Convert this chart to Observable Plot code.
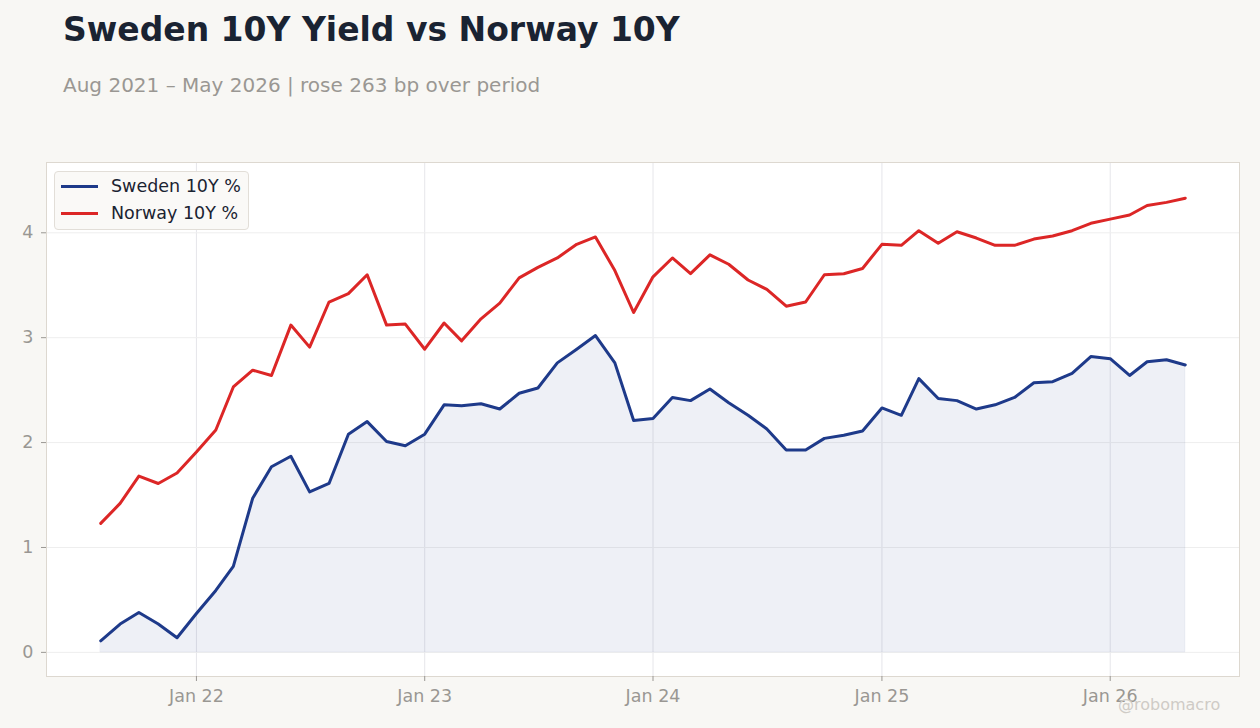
<!DOCTYPE html>
<html>
<head>
<meta charset="utf-8">
<script src="https://cdn.jsdelivr.net/npm/d3@7"></script>
<script src="https://cdn.jsdelivr.net/npm/@observablehq/plot@0.6"></script>
<style>
  html, body { margin: 0; padding: 0; background: #f8f7f4; }
  #wrap { position: relative; width: 1260px; height: 728px; overflow: hidden; font-family: "DejaVu Sans", sans-serif; }
  .title { position: absolute; left: 63px; top: 13px; font-size: 33px; line-height: 1; font-weight: bold; color: #1a2332; white-space: nowrap; }
  .subtitle { position: absolute; left: 63px; top: 75px; font-size: 20px; line-height: 1; color: #9a9793; white-space: nowrap; }
  #chart { position: absolute; left: 0; top: 150px; }
  .legend { position: absolute; left: 54px; top: 171px; width: 193px; height: 57px; background: #faf9f7; border: 1px solid #e2ded8; border-radius: 4px; }
  .legend .item { position: absolute; left: 0; height: 20px; width: 193px; }
  .legend .sw { position: absolute; left: 6px; top: 9px; width: 37px; height: 3px; }
  .legend .lab { position: absolute; left: 56px; top: 0; font-size: 17.5px; line-height: 20px; color: #1a2332; white-space: nowrap; }
  .mark { position: absolute; left: 1118px; top: 697px; font-size: 16px; line-height: 1; color: #cfcbc6; white-space: nowrap; }
</style>
</head>
<body>
<div id="wrap">
  <div class="title">Sweden 10Y Yield vs Norway 10Y</div>
  <div class="subtitle">Aug 2021 – May 2026 | rose 263 bp over period</div>
  <div id="chart"></div>
  <div class="legend">
    <div class="item" style="top:4px"><div class="sw" style="background:#1e3a8a"></div><div class="lab">Sweden 10Y %</div></div>
    <div class="item" style="top:31px"><div class="sw" style="background:#dc2626"></div><div class="lab">Norway 10Y %</div></div>
  </div>
  <div class="mark">@robomacro</div>
</div>
<script>
// Monthly observations, Aug 2021 – May 2026
const startMonth = "2021-08-01";
const endMonth = "2026-05-01";
const sweden = [0.11,0.27,0.38,0.27,0.14,0.37,0.59,0.82,1.47,1.77,1.87,1.53,1.61,2.08,2.20,2.01,1.97,2.08,2.36,2.35,2.37,2.32,2.47,2.52,2.76,2.89,3.02,2.76,2.21,2.23,2.43,2.40,2.51,2.38,2.26,2.13,1.93,1.93,2.04,2.07,2.11,2.33,2.26,2.61,2.42,2.40,2.32,2.36,2.43,2.57,2.58,2.66,2.82,2.80,2.64,2.77,2.79,2.74];
const norway = [1.23,1.42,1.68,1.61,1.71,1.91,2.12,2.53,2.69,2.64,3.12,2.91,3.34,3.42,3.60,3.12,3.13,2.89,3.14,2.97,3.18,3.33,3.57,3.67,3.76,3.89,3.96,3.64,3.24,3.58,3.76,3.61,3.79,3.70,3.55,3.46,3.30,3.34,3.60,3.61,3.66,3.89,3.88,4.02,3.90,4.01,3.95,3.88,3.88,3.94,3.97,4.02,4.09,4.13,4.17,4.26,4.29,4.33];
const yTicks = [0, 1, 2, 3, 4];

const d0 = new Date(startMonth), d1 = new Date(endMonth);
const months = d3.utcMonth.range(d0, d3.utcMonth.offset(d1, 1));
const rows = months.map((d, i) => ({date: d, sweden: sweden[i], norway: norway[i]}));

const span = d1 - d0;
const xDomain = [new Date(+d0 - 0.05 * span), new Date(+d1 + 0.05 * span)];
const xTicks = d3.utcYear.range(xDomain[0], xDomain[1]);

const chart = Plot.plot({
  width: 1260,
  height: 578,
  marginTop: 12,
  marginLeft: 46,
  marginRight: 21,
  marginBottom: 52,
  style: {background: "transparent", fontFamily: "DejaVu Sans, sans-serif", fontSize: "17.5px", color: "#9a9793", overflow: "visible"},
  x: {type: "utc", domain: xDomain, label: null},
  y: {domain: [-0.23, 4.67], label: null},
  marks: [
    Plot.frame({fill: "white", stroke: "none"}),
    Plot.gridX(xTicks, {stroke: "#e6e6ea", strokeOpacity: 1}),
    Plot.gridY(yTicks, {stroke: "#eeeeee", strokeOpacity: 1}),
    Plot.areaY(rows, {x: "date", y: "sweden", fill: "#1e3a8a", fillOpacity: 0.075, stroke: "#1e3a8a", strokeOpacity: 0.06, strokeWidth: 1}),
    Plot.lineY(rows, {x: "date", y: "sweden", stroke: "#1e3a8a", strokeWidth: 3, strokeLinejoin: "round"}),
    Plot.lineY(rows, {x: "date", y: "norway", stroke: "#dc2626", strokeWidth: 3, strokeLinejoin: "round"}),
    Plot.frame({stroke: "#ddd8d0", strokeWidth: 1}),
    Plot.axisX({ticks: xTicks, tickFormat: d3.utcFormat("%b %y"), tickSize: 5, tickPadding: 8, label: null}),
    Plot.axisY({ticks: yTicks, tickFormat: d3.format("d"), tickSize: 5, tickPadding: 8, label: null})
  ]
});
document.getElementById("chart").appendChild(chart);
</script>
</body>
</html>
